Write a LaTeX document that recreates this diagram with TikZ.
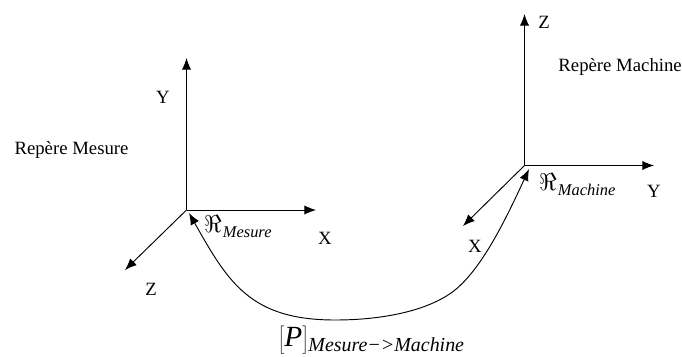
\documentclass[tikz,border=0pt]{standalone}
\usepackage{fontspec}
\setmainfont{Liberation Serif}
\usetikzlibrary{arrows.meta}
\tikzset{
  axis/.style={-{Latex[length=10pt,width=8pt]}, line width=0.8pt},
  transfo/.style={{Latex[length=10pt,width=8pt]}-{Latex[length=10pt,width=8pt]}, line width=0.8pt},
  lbl/.style={inner sep=0pt, font=\fontsize{16}{18}\selectfont},
  framelbl/.style={inner sep=0pt, anchor=base west, font=\fontsize{21}{23}\selectfont}
}
\newcommand{\subtxt}[2]{\raisebox{-5pt}{\fontsize{#1}{#1}\selectfont\itshape #2}}
\begin{document}
\begin{tikzpicture}[x=0.03cm, y=0.03cm]
  \useasboundingbox (0,0) rectangle (682,356);
  % Left frame: origin at (186,146)
  \coordinate (OM) at (186.5,146);
  \coordinate (YM) at (186.5,298);
  \coordinate (XM) at (316,146);
  \coordinate (ZM) at (125,86);
  \draw[axis] (OM) -- (YM);
  \draw[axis] (OM) -- (XM);
  \draw[axis] (OM) -- (ZM);
  % Right frame: origin at (524,190)
  \coordinate (OR) at (524.5,190.5);
  \coordinate (ZR) at (524.5,342);
  \coordinate (YR) at (654,190.5);
  \coordinate (XR) at (463,130);
  \draw[axis] (OR) -- (ZR);
  \draw[axis] (OR) -- (YR);
  \draw[axis] (OR) -- (XR);
  % Transformation between the frames
  \coordinate (TM) at (189,143);
  \coordinate (TR) at (529,187);
  \coordinate (BOT) at (335,36);
  \draw[transfo] (TM) .. controls (228,74) and (250,36) .. (BOT)
     .. controls (385,36) and (430,46) .. (455,66)
     .. controls (482,88) and (505,135) .. (TR);
  % Labels
  \node[lbl] (LY) at (163,259) {Y};
  \node[lbl] (LX) at (325,118) {X};
  \node[lbl] (LZ) at (151,67) {Z};
  \node[lbl] (LRM) at (71.5,206) {Repère Mesure};
  \node[lbl] (LZR) at (544,334) {Z};
  \node[lbl] (LYR) at (654,165) {Y};
  \node[lbl] (LXR) at (475,110) {X};
  \node[lbl, anchor=east] (LRR) at (682,289) {Repère Machine};
  \node[framelbl] (RM) at (204,124) {$\Re$\kern1pt\subtxt{14}{Mesure}};
  \node[framelbl] (RR) at (539,166) {$\Re$\kern1pt\subtxt{14}{Machine}};
  \node[framelbl] (PM) at (278,10) {$\left[\rule[-7pt]{0pt}{24pt}\textit{\fontsize{25}{27}\selectfont P}\right]$\subtxt{17}{Mesure−>Machine}};
\end{tikzpicture}
\end{document}
